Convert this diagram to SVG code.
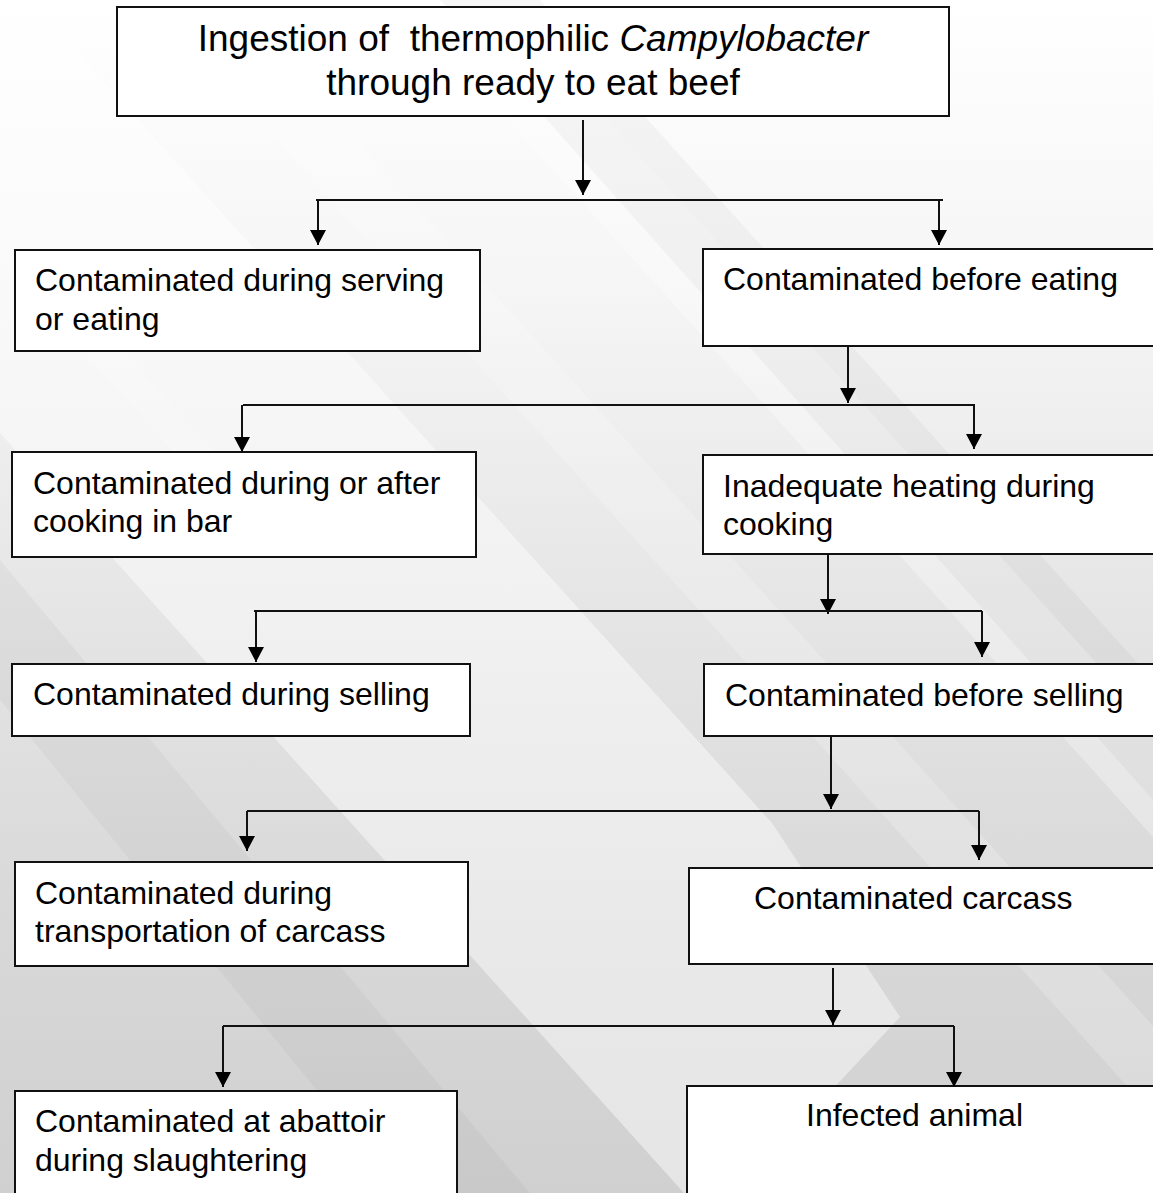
<svg xmlns="http://www.w3.org/2000/svg" width="1153" height="1193" viewBox="0 0 1153 1193">
<style>
.box{fill:#fff;stroke:#111;stroke-width:2}
.t{font-family:"Liberation Sans",Arial,sans-serif;font-size:32px;fill:#000;white-space:pre}
.tt{font-family:"Liberation Sans",Arial,sans-serif;font-size:37px;fill:#000;white-space:pre}
.c line{stroke:#111;stroke-width:2}
.lt{fill:#ffffff}
.dk{fill:#000000}
</style>
<defs>
<linearGradient id="bg" x1="0" y1="0" x2="0" y2="1">
<stop offset="0" stop-color="#ffffff"/>
<stop offset="0.25" stop-color="#f5f5f5"/>
<stop offset="0.5" stop-color="#e6e6e6"/>
<stop offset="0.75" stop-color="#d9d9d9"/>
<stop offset="1" stop-color="#d0d0d0"/>
</linearGradient>
<marker id="ah" viewBox="0 0 15 16" refX="15" refY="8" markerWidth="15" markerHeight="16" markerUnits="userSpaceOnUse" orient="auto">
<path d="M0,0 L15,8 L0,16 z" fill="#000"/>
</marker>
</defs>
<g id="background">
<rect x="0" y="0" width="1153" height="1193" fill="url(#bg)"/>
<polygon class="lt" opacity="0.45" points="0,433 684,1193 790,1193 830,1092 900,1017 772,823 30,0 0,0"/>
<polygon class="lt" opacity="0.3" points="400,0 500,0 1153,726 1153,837"/>
<polygon class="lt" opacity="0.2" points="150,0 230,0 1153,1026 1153,1115"/>
<polygon class="dk" opacity="0.03" points="0,560 0,700 400,1193 530,1193"/>
<polygon class="dk" opacity="0.03" points="440,0 540,0 1153,680 1153,800"/>
<polygon class="lt" opacity="0.2" points="0,260 40,260 240,480 200,480"/>
</g>
<g id="n1"><rect class="box" x="117" y="7" width="832" height="109"/>
<text class="tt" x="533" y="51" text-anchor="middle">Ingestion of  thermophilic <tspan font-style="italic">Campylobacter</tspan></text>
<text class="tt" x="533" y="95" text-anchor="middle">through ready to eat beef</text></g>
<g id="n2"><rect class="box" x="15" y="250" width="465" height="101"/>
<text class="t" x="35" y="291">Contaminated during serving</text>
<text class="t" x="35" y="330">or eating</text></g>
<g id="n3"><rect class="box" x="703" y="249" width="470" height="97"/>
<text class="t" x="723" y="290">Contaminated before eating</text></g>
<g id="n4"><rect class="box" x="12" y="452" width="464" height="105"/>
<text class="t" x="33" y="494">Contaminated during or after</text>
<text class="t" x="33" y="532">cooking in bar</text></g>
<g id="n5"><rect class="box" x="703" y="455" width="470" height="99"/>
<text class="t" x="723" y="497">Inadequate heating during</text>
<text class="t" x="723" y="535">cooking</text></g>
<g id="n6"><rect class="box" x="12" y="664" width="458" height="72"/>
<text class="t" x="33" y="705">Contaminated during selling</text></g>
<g id="n7"><rect class="box" x="704" y="664" width="470" height="72"/>
<text class="t" x="725" y="706">Contaminated before selling</text></g>
<g id="n8"><rect class="box" x="15" y="862" width="453" height="104"/>
<text class="t" x="35" y="904">Contaminated during</text>
<text class="t" x="35" y="942">transportation of carcass</text></g>
<g id="n9"><rect class="box" x="689" y="868" width="480" height="96"/>
<text class="t" x="754" y="909">Contaminated carcass</text></g>
<g id="n10"><rect class="box" x="15" y="1091" width="442" height="120"/>
<text class="t" x="35" y="1132">Contaminated at abattoir</text>
<text class="t" x="35" y="1171">during slaughtering</text></g>
<g id="n11"><rect class="box" x="687" y="1086" width="480" height="120"/>
<text class="t" x="806" y="1126">Infected animal</text></g>
<g id="connectors" class="c">
<line x1="583" y1="120" x2="583" y2="195" marker-end="url(#ah)"/>
<line x1="316" y1="200" x2="943" y2="200"/>
<line x1="318" y1="200" x2="318" y2="245" marker-end="url(#ah)"/>
<line x1="939" y1="200" x2="939" y2="245" marker-end="url(#ah)"/>
<line x1="848" y1="346" x2="848" y2="403" marker-end="url(#ah)"/>
<line x1="243" y1="405" x2="975" y2="405"/>
<line x1="242" y1="405" x2="242" y2="452" marker-end="url(#ah)"/>
<line x1="974" y1="405" x2="974" y2="449" marker-end="url(#ah)"/>
<line x1="828" y1="555" x2="828" y2="614" marker-end="url(#ah)"/>
<line x1="254" y1="611" x2="982" y2="611"/>
<line x1="256" y1="611" x2="256" y2="662" marker-end="url(#ah)"/>
<line x1="982" y1="611" x2="982" y2="657" marker-end="url(#ah)"/>
<line x1="831" y1="737" x2="831" y2="809" marker-end="url(#ah)"/>
<line x1="247" y1="811" x2="979" y2="811"/>
<line x1="247" y1="811" x2="247" y2="851" marker-end="url(#ah)"/>
<line x1="979" y1="811" x2="979" y2="860" marker-end="url(#ah)"/>
<line x1="833" y1="968" x2="833" y2="1025" marker-end="url(#ah)"/>
<line x1="223" y1="1026" x2="954" y2="1026"/>
<line x1="223" y1="1026" x2="223" y2="1087" marker-end="url(#ah)"/>
<line x1="954" y1="1026" x2="954" y2="1087" marker-end="url(#ah)"/>
</g>
</svg>
